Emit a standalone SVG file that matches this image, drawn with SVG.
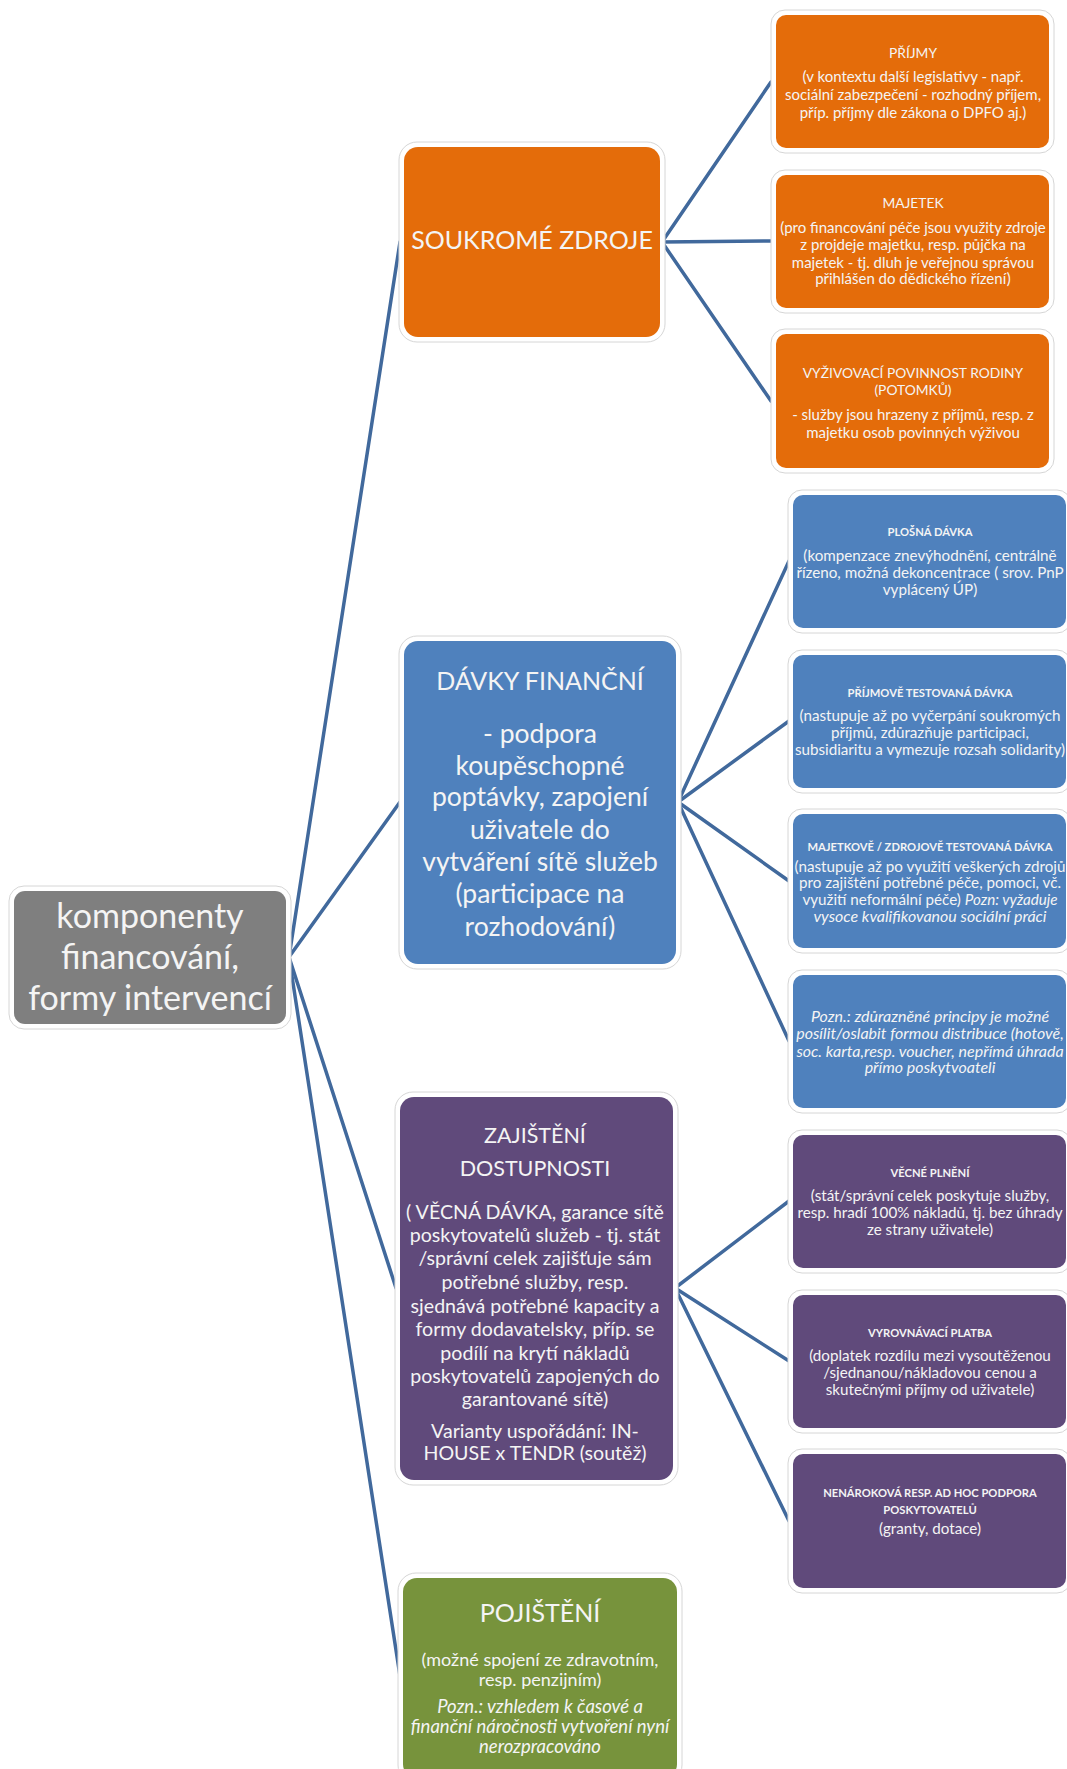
<svg xmlns="http://www.w3.org/2000/svg" width="1067" height="1769" viewBox="0 0 1067 1769">
<style>
text{font-family:Lato,"Open Sans","Liberation Sans",sans-serif;fill:#f4f4f4;text-anchor:middle}
.ring{fill:#fff;stroke:#d6d6d6;stroke-width:1}
.gray{fill:#7f7f7f}.or{fill:#e46c0a}.bl{fill:#4f81bd}.pu{fill:#604a7b}.gr{fill:#77933c}
.con line{stroke:#41699c;stroke-width:3.5;stroke-linecap:round}
.h{font-size:13.8px}.b{font-size:15px}.hb{font-size:11.2px;font-weight:bold}.bb{font-size:15.2px}.i{font-style:italic}.bi{font-size:16px;font-style:italic}
.dv{font-size:26.5px}.zb{font-size:19.6px}
</style>
<rect width="1067" height="1769" fill="#fff"/>
<g id="connectors" class="con">
<line x1="289" y1="957" x2="400" y2="242"/>
<line x1="289" y1="957" x2="400" y2="802"/>
<line x1="289" y1="957" x2="396" y2="1288"/>
<line x1="289" y1="957" x2="400" y2="1676"/>
<line x1="662" y1="242" x2="771" y2="82"/>
<line x1="662" y1="242" x2="771" y2="241"/>
<line x1="662" y1="242" x2="771" y2="401"/>
<line x1="678" y1="802" x2="789" y2="561"/>
<line x1="678" y1="802" x2="789" y2="721"/>
<line x1="678" y1="802" x2="789" y2="881"/>
<line x1="678" y1="802" x2="789" y2="1041"/>
<line x1="675" y1="1288" x2="789" y2="1201"/>
<line x1="675" y1="1288" x2="789" y2="1361"/>
<line x1="675" y1="1288" x2="789" y2="1521"/>
</g>
<g id="root">
<rect class="ring" x="9" y="886" width="282" height="143" rx="15"/>
<rect class="gray" x="14" y="891" width="272" height="133" rx="11"/>
<text x="150" y="928" font-size="34">komponenty</text>
<text x="150" y="969" font-size="34">financování,</text>
<text x="150" y="1010" font-size="34">formy intervencí</text>
</g>
<g id="soukrome">
<rect class="ring" x="399" y="142" width="266" height="200" rx="18"/>
<rect class="or" x="404" y="147" width="256" height="190" rx="14"/>
<text x="532" y="249" font-size="25">SOUKROMÉ ZDROJE</text>
</g>
<g id="davky">
<rect class="ring" x="399" y="636" width="282" height="333" rx="18"/>
<rect class="bl" x="404" y="641" width="272" height="323" rx="14"/>
<text x="540" y="690" font-size="25">DÁVKY FINANČNÍ</text>
<text x="540" y="743" class="dv">- podpora</text>
<text x="540" y="775" class="dv">koupěschopné</text>
<text x="540" y="806" class="dv">poptávky, zapojení</text>
<text x="540" y="839" class="dv">uživatele do</text>
<text x="540" y="871" class="dv">vytváření sítě služeb</text>
<text x="540" y="903" class="dv">(participace na</text>
<text x="540" y="936" class="dv">rozhodování)</text>
</g>
<g id="zajisteni">
<rect class="ring" x="395" y="1092" width="283" height="393" rx="18"/>
<rect class="pu" x="400" y="1097" width="273" height="383" rx="14"/>
<text x="535" y="1143" font-size="21.5">ZAJIŠTĚNÍ</text>
<text x="535" y="1176" font-size="21.5">DOSTUPNOSTI</text>
<text x="535" y="1219" class="zb">( VĚCNÁ DÁVKA, garance sítě</text>
<text x="535" y="1242" class="zb">poskytovatelů služeb - tj. stát</text>
<text x="535" y="1265" class="zb">/správní celek zajišťuje sám</text>
<text x="535" y="1289" class="zb">potřebné služby, resp.</text>
<text x="535" y="1313" class="zb">sjednává potřebné kapacity a</text>
<text x="535" y="1336" class="zb">formy dodavatelsky, příp. se</text>
<text x="535" y="1360" class="zb">podílí na krytí nákladů</text>
<text x="535" y="1383" class="zb">poskytovatelů zapojených do</text>
<text x="535" y="1406" class="zb">garantované sítě)</text>
<text x="535" y="1438" class="zb">Varianty uspořádání: IN-</text>
<text x="535" y="1460" class="zb">HOUSE x TENDR (soutěž)</text>
</g>
<g id="pojisteni">
<rect class="ring" x="398" y="1573" width="284" height="210" rx="18"/>
<rect class="gr" x="403" y="1578" width="274" height="200" rx="14"/>
<text x="540" y="1622" font-size="25">POJIŠTĚNÍ</text>
<text x="540" y="1666" font-size="18">(možné spojení ze zdravotním,</text>
<text x="540" y="1686" font-size="18">resp. penzijním)</text>
<text x="540" y="1713" font-size="18.5" class="i">Pozn.: vzhledem k časové a</text>
<text x="540" y="1733" font-size="18.5" class="i">finanční náročnosti vytvoření nyní</text>
<text x="540" y="1753" font-size="18.5" class="i">nerozpracováno</text>
</g>
<g id="prijmy">
<rect class="ring" x="771" y="10" width="283" height="143" rx="14"/>
<rect class="or" x="776" y="15" width="273" height="133" rx="10"/>
<text x="913" y="58" class="h">PŘÍJMY</text>
<text x="913" y="82" class="b">(v kontextu další legislativy - např.</text>
<text x="913" y="100" class="b">sociální zabezpečení - rozhodný příjem,</text>
<text x="913" y="118" class="b">příp. příjmy dle zákona o DPFO aj.)</text>
</g>
<g id="majetek">
<rect class="ring" x="771" y="170" width="283" height="143" rx="14"/>
<rect class="or" x="776" y="175" width="273" height="133" rx="10"/>
<text x="913" y="208" class="h">MAJETEK</text>
<text x="913" y="233" class="b">(pro financování péče jsou využity zdroje</text>
<text x="913" y="250" class="b">z projdeje majetku, resp. půjčka na</text>
<text x="913" y="268" class="b">majetek - tj. dluh je veřejnou správou</text>
<text x="913" y="284" class="b">přihlášen do dědického řízení)</text>
</g>
<g id="vyzivovaci">
<rect class="ring" x="771" y="329" width="283" height="144" rx="14"/>
<rect class="or" x="776" y="334" width="273" height="134" rx="10"/>
<text x="913" y="378" class="h">VYŽIVOVACÍ POVINNOST RODINY</text>
<text x="913" y="395" class="h">(POTOMKŮ)</text>
<text x="913" y="420" class="b">- služby jsou hrazeny  z příjmů, resp. z</text>
<text x="913" y="438" class="b">majetku osob povinných výživou</text>
</g>
<g id="plosna">
<rect class="ring" x="788" y="490" width="283" height="143" rx="14"/>
<rect class="bl" x="793" y="495" width="273" height="133" rx="10"/>
<text x="930" y="536" class="hb">PLOŠNÁ DÁVKA</text>
<text x="930" y="561" class="bb">(kompenzace znevýhodnění, centrálně</text>
<text x="930" y="578" class="bb">řízeno, možná dekoncentrace ( srov. PnP</text>
<text x="930" y="595" class="bb">vyplácený ÚP)</text>
</g>
<g id="prijmove">
<rect class="ring" x="788" y="650" width="283" height="143" rx="14"/>
<rect class="bl" x="793" y="655" width="273" height="133" rx="10"/>
<text x="930" y="697" class="hb">PŘÍJMOVĚ TESTOVANÁ DÁVKA</text>
<text x="930" y="721" class="bb">(nastupuje až po vyčerpání soukromých</text>
<text x="930" y="738" class="bb">příjmů, zdůrazňuje participaci,</text>
<text x="930" y="755" class="bb">subsidiaritu a vymezuje rozsah solidarity)</text>
</g>
<g id="majetkove">
<rect class="ring" x="788" y="809" width="283" height="144" rx="14"/>
<rect class="bl" x="793" y="814" width="273" height="134" rx="10"/>
<text x="930" y="851" class="hb">MAJETKOVĚ  / ZDROJOVĚ TESTOVANÁ DÁVKA</text>
<text x="930" y="872" class="bb">(nastupuje až po využití veškerých zdrojů</text>
<text x="930" y="888" class="bb">pro zajištění potřebné péče, pomoci, vč.</text>
<text x="930" y="905" class="bb">využití neformální péče) <tspan class="i">Pozn: vyžaduje</tspan></text>
<text x="930" y="922" class="bi">vysoce kvalifikovanou sociální práci</text>
</g>
<g id="pozn">
<rect class="ring" x="788" y="970" width="283" height="143" rx="14"/>
<rect class="bl" x="793" y="975" width="273" height="133" rx="10"/>
<text x="930" y="1022" class="bi">Pozn.: zdůrazněné principy je možné</text>
<text x="930" y="1039" class="bi">posílit/oslabit formou distribuce (hotově,</text>
<text x="930" y="1057" class="bi">soc. karta,resp. voucher, nepřímá úhrada</text>
<text x="930" y="1073" class="bi">přímo poskytvoateli</text>
</g>
<g id="vecne">
<rect class="ring" x="788" y="1130" width="283" height="143" rx="14"/>
<rect class="pu" x="793" y="1135" width="273" height="133" rx="10"/>
<text x="930" y="1177" class="hb">VĚCNÉ PLNĚNÍ</text>
<text x="930" y="1201" class="bb">(stát/správní celek poskytuje služby,</text>
<text x="930" y="1218" class="bb">resp. hradí 100% nákladů, tj. bez úhrady</text>
<text x="930" y="1235" class="bb">ze strany uživatele)</text>
</g>
<g id="vyrovnavaci">
<rect class="ring" x="788" y="1290" width="283" height="143" rx="14"/>
<rect class="pu" x="793" y="1295" width="273" height="133" rx="10"/>
<text x="930" y="1337" class="hb">VYROVNÁVACÍ PLATBA</text>
<text x="930" y="1361" class="bb">(doplatek rozdílu mezi vysoutěženou</text>
<text x="930" y="1378" class="bb">/sjednanou/nákladovou cenou a</text>
<text x="930" y="1395" class="bb">skutečnými příjmy od uživatele)</text>
</g>
<g id="nenarokova">
<rect class="ring" x="788" y="1449" width="283" height="144" rx="14"/>
<rect class="pu" x="793" y="1454" width="273" height="134" rx="10"/>
<text x="930" y="1497" class="hb">NENÁROKOVÁ RESP. AD HOC  PODPORA</text>
<text x="930" y="1514" class="hb">POSKYTOVATELŮ</text>
<text x="930" y="1534" class="bb">(granty, dotace)</text>
</g>
</svg>
